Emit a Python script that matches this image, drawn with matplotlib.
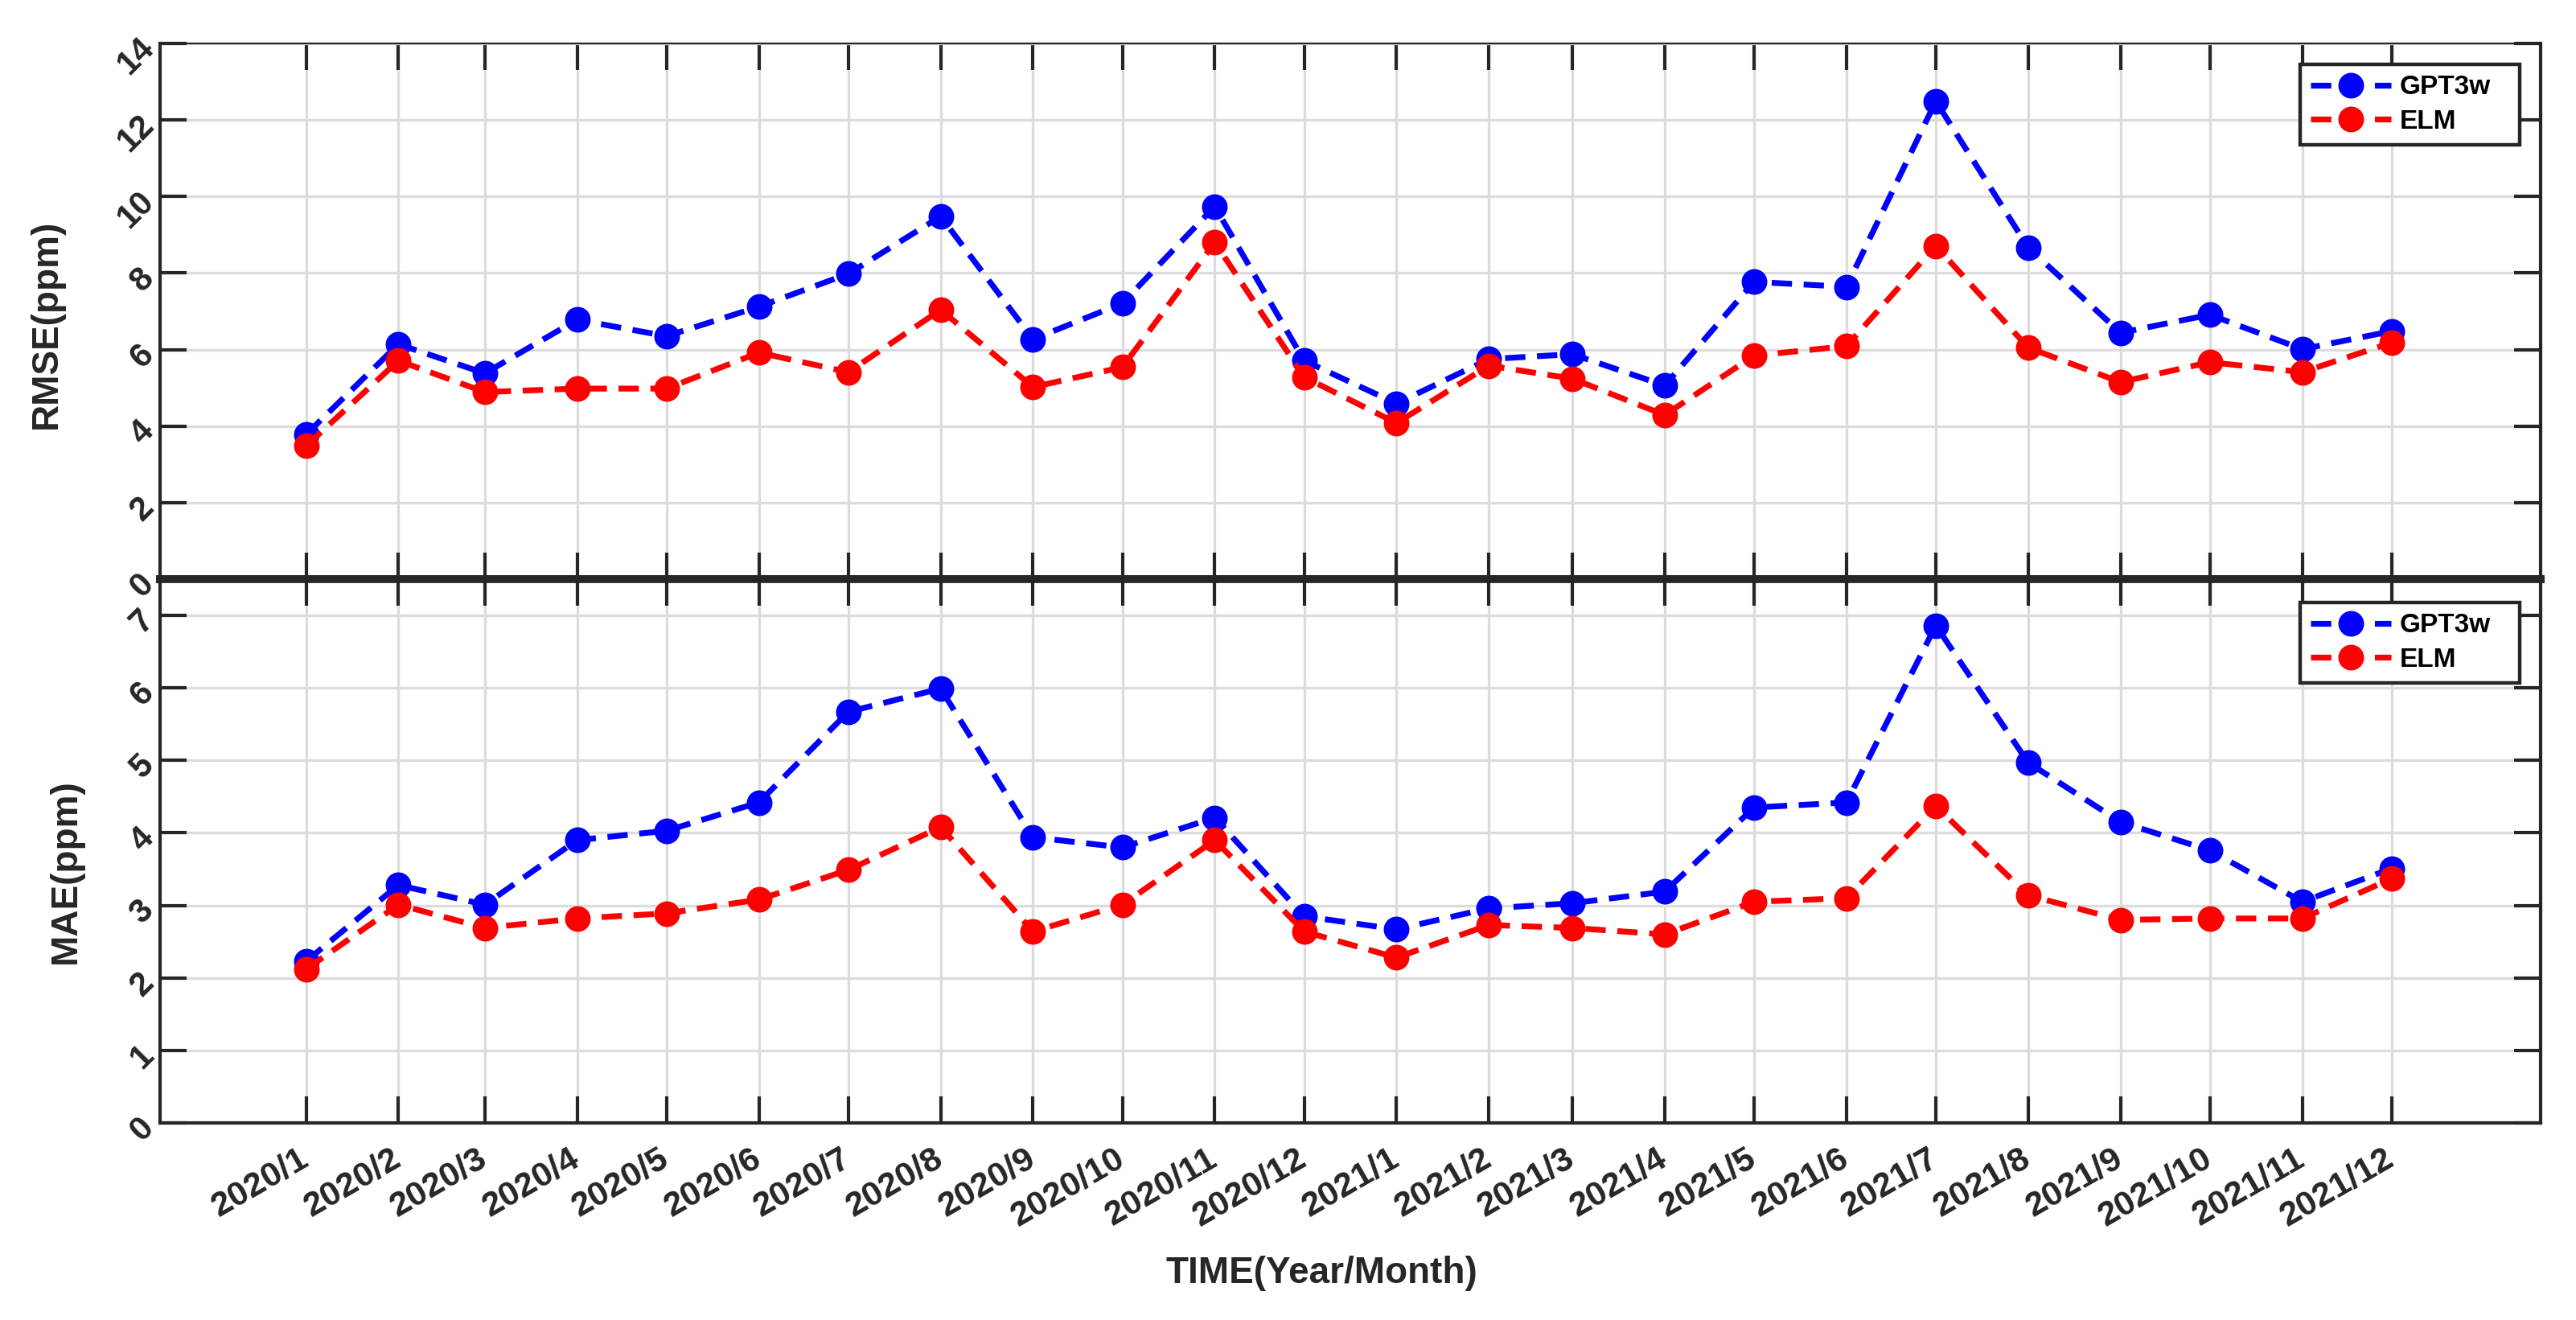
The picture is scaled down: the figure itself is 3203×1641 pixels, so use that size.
import numpy as np
import matplotlib
matplotlib.use("Agg")
import matplotlib.pyplot as plt

# ---------------- data ----------------
months = ["2020/1", "2020/2", "2020/3", "2020/4", "2020/5", "2020/6", "2020/7", "2020/8",
          "2020/9", "2020/10", "2020/11", "2020/12", "2021/1", "2021/2", "2021/3", "2021/4",
          "2021/5", "2021/6", "2021/7", "2021/8", "2021/9", "2021/10", "2021/11", "2021/12"]

rmse_gpt3w = [3.78, 6.14, 5.38, 6.78, 6.35, 7.12, 7.98, 9.48, 6.27, 7.21, 9.74, 5.71,
              4.59, 5.75, 5.88, 5.06, 7.77, 7.64, 12.49, 8.67, 6.44, 6.91, 6.01, 6.48]
rmse_elm = [3.48, 5.71, 4.89, 4.98, 4.98, 5.92, 5.41, 7.04, 5.02, 5.54, 8.80, 5.28,
            4.08, 5.58, 5.24, 4.29, 5.84, 6.09, 8.71, 6.05, 5.15, 5.67, 5.41, 6.18]

mae_gpt3w = [2.23, 3.28, 3.01, 3.90, 4.03, 4.42, 5.67, 5.99, 3.94, 3.80, 4.21, 2.85,
             2.67, 2.96, 3.03, 3.19, 4.35, 4.42, 6.86, 4.97, 4.15, 3.76, 3.05, 3.51]
mae_elm = [2.12, 3.01, 2.69, 2.82, 2.89, 3.08, 3.49, 4.08, 2.64, 3.01, 3.90, 2.64,
           2.28, 2.73, 2.69, 2.60, 3.05, 3.10, 4.37, 3.14, 2.80, 2.82, 2.82, 3.37]

series_names = ["GPT3w", "ELM"]
ylabels = ["RMSE(ppm)", "MAE(ppm)"]
xlabel = "TIME(Year/Month)"

# ---------------- style ----------------
dates = np.array([np.datetime64(m.split("/")[0] + "-" + m.split("/")[1].zfill(2) + "-01")
                  for m in months])
xmin = np.datetime64("2019-11-13")
xmax = np.datetime64("2022-01-20")

DARK = "#262626"
GRID = "#dcdcdc"
FONT = ["Liberation Sans", "DejaVu Sans"]
plt.rcParams["font.family"] = FONT

W, H = 3203, 1641
DPI = 200
fig = plt.figure(figsize=(W / DPI, H / DPI), dpi=DPI)

AX_L, AX_R = 199, 3159
left = AX_L / W
width = (AX_R - AX_L) / W
tops = [54, 720]
bottoms = [720, 1396]
ax1 = fig.add_axes([left, 1 - bottoms[0] / H, width, (bottoms[0] - tops[0]) / H])
ax2 = fig.add_axes([left, 1 - bottoms[1] / H, width, (bottoms[1] - tops[1]) / H], sharex=ax1)

colors = ["#0000ff", "#ff0000"]
data_sets = [(ax1, [rmse_gpt3w, rmse_elm], (0, 14), np.arange(0, 15, 2)),
             (ax2, [mae_gpt3w, mae_elm], (0, 7.5), np.arange(0, 8, 1))]
legend_tops = [80, 749]
ylabel_x = [80, 104]
ylabel_y = [403, 1083]

for i, (ax, ys, ylim, yticks) in enumerate(data_sets):
    for y, c, name in zip(ys, colors, series_names):
        ax.plot(dates, y, linestyle=(0, (3.5, 2.0)), color=c, lw=2.6,
                marker="o", markersize=10.5, markerfacecolor=c, markeredgecolor=c,
                label=name, zorder=3)
    ax.set_ylim(*ylim)
    ax.set_yticks(yticks)
    ax.set_xlim(xmin, xmax)
    ax.grid(True, color=GRID, lw=1.2, zorder=0)
    ax.set_axisbelow(True)
    ax.tick_params(axis="both", which="major", direction="in", length=12, width=1.5,
                   color=DARK, top=True, right=True, labelcolor=DARK)
    ax.tick_params(axis="y", labelsize=15, labelrotation=45, pad=5)
    for t in ax.get_yticklabels():
        t.set_rotation_mode("anchor")
        t.set_ha("right")
        t.set_va("center")
        t.set_fontweight("bold")
    for s in ax.spines.values():
        s.set_color(DARK)
        s.set_linewidth(1.5)
    axh = bottoms[i] - tops[i]
    lx0 = (2860 - AX_L) / (AX_R - AX_L)
    lx1 = (3133 - AX_L) / (AX_R - AX_L)
    ly1 = 1 - (legend_tops[i] - tops[i]) / axh
    ly0 = ly1 - 100 / axh
    leg = ax.legend(loc="upper left", bbox_to_anchor=(lx0, ly0, lx1 - lx0, ly1 - ly0),
                    mode="expand", frameon=True, fancybox=False,
                    framealpha=1, edgecolor=DARK, borderaxespad=0, borderpad=0.4,
                    labelspacing=0.35, handlelength=3.0, handletextpad=0.3,
                    prop={"family": FONT, "weight": "bold", "size": 12})
    leg.get_frame().set_linewidth(1.6)
    ax.set_ylabel(ylabels[i], fontsize=16.5, fontweight="bold", color=DARK)
    ax.yaxis.set_label_coords((ylabel_x[i] - AX_L) / (AX_R - AX_L),
                              1 - (ylabel_y[i] - tops[i]) / axh)

ax1.spines["top"].set_linewidth(0.8)
ax1.spines["bottom"].set_linewidth(3.5)
ax2.spines["top"].set_linewidth(3.5)

ax2.set_xticks(dates)
ax2.set_xticklabels(months)
ax1.tick_params(axis="x", labelbottom=False)
ax2.tick_params(axis="x", labelsize=15.5, pad=15)
for t in ax2.get_xticklabels():
    t.set_rotation(30)
    t.set_rotation_mode("anchor")
    t.set_ha("right")
    t.set_va("center")
    t.set_fontweight("bold")

fig.text(1643 / W, 1 - 1583 / H, xlabel, ha="center", va="center", fontsize=16.5,
         fontweight="bold", color=DARK,
         family=["Liberation Sans Narrow", "Liberation Sans", "DejaVu Sans"])

fig.savefig("out.png", dpi=DPI, facecolor="white")
